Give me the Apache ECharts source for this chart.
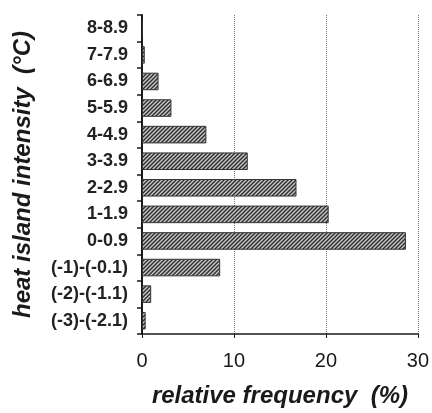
<!DOCTYPE html>
<html>
<head>
<meta charset="utf-8">
<script src="https://cdn.jsdelivr.net/npm/echarts@6/dist/echarts.min.js"></script>
<style>
  html, body { margin: 0; padding: 0; background: #fff; }
</style>
</head>
<body>
<div id="main" style="width:432px;height:413px;"></div>
<script type="text/javascript">
// categories top to bottom
var categories = ['8-8.9', '7-7.9', '6-6.9', '5-5.9', '4-4.9', '3-3.9', '2-2.9',
                  '1-1.9', '0-0.9', '(-1)-(-0.1)', '(-2)-(-1.1)', '(-3)-(-2.1)'];
var frequency = [0.1, 0.3, 1.8, 3.2, 7.0, 11.5, 16.8, 20.3, 28.7, 8.5, 1.0, 0.4];
var xTicks = [0, 10, 20, 30];

// hatch pattern for the bars
function hatch() {
    var c = document.createElement('canvas');
    c.width = 4; c.height = 4;
    var ctx = c.getContext('2d');
    ctx.fillStyle = '#c4c4c4';
    ctx.fillRect(0, 0, 4, 4);
    ctx.strokeStyle = '#2a2a2a';
    ctx.lineWidth = 1.3;
    ctx.beginPath();
    ctx.moveTo(-1, 5); ctx.lineTo(5, -1);
    ctx.moveTo(-1, 1); ctx.lineTo(1, -1);
    ctx.moveTo(3, 5); ctx.lineTo(5, 3);
    ctx.stroke();
    return c;
}

var myChart = echarts.init(document.getElementById('main'));
var option = {
    animation: false,
    grid: { left: 142, right: 11, top: 15, bottom: 74 },
    xAxis: {
        type: 'value',
        min: xTicks[0],
        max: xTicks[xTicks.length - 1],
        interval: 10,
        name: 'relative frequency  (%)',
        nameLocation: 'middle',
        nameGap: 50,
        nameTextStyle: {
            fontFamily: 'Liberation Sans', fontSize: 24, fontWeight: 'bold',
            fontStyle: 'italic', color: '#1a1a1a'
        },
        axisLine: { show: true, lineStyle: { color: '#1a1a1a', width: 1.5 } },
        axisTick: { show: true, length: 4, lineStyle: { color: '#1a1a1a' } },
        axisLabel: {
            margin: 17, fontFamily: 'Liberation Sans', fontSize: 20, color: '#1a1a1a'
        },
        splitLine: {
            show: true,
            lineStyle: { color: '#777', type: [1, 1], width: 1 }
        }
    },
    yAxis: {
        type: 'category',
        data: categories,
        inverse: true,
        name: 'heat island intensity  (\u00b0C)',
        nameLocation: 'middle',
        nameGap: 107,
        nameRotate: 90,
        nameTextStyle: {
            fontFamily: 'Liberation Sans', fontSize: 24, fontWeight: 'bold',
            fontStyle: 'italic', color: '#1a1a1a'
        },
        axisLine: { show: true, lineStyle: { color: '#1a1a1a', width: 2 } },
        axisTick: { show: true, length: 5, lineStyle: { color: '#1a1a1a', width: 1.5 } },
        axisLabel: {
            margin: 14, fontFamily: 'Liberation Sans', fontSize: 18, fontWeight: 'bold',
            color: '#222'
        },
        splitLine: { show: false }
    },
    series: [{
        type: 'bar',
        data: frequency,
        barCategoryGap: '34%',
        itemStyle: {
            color: { image: hatch(), repeat: 'repeat' },
            borderColor: '#333',
            borderWidth: 1
        }
    }]
};
myChart.setOption(option);
</script>
</body>
</html>
